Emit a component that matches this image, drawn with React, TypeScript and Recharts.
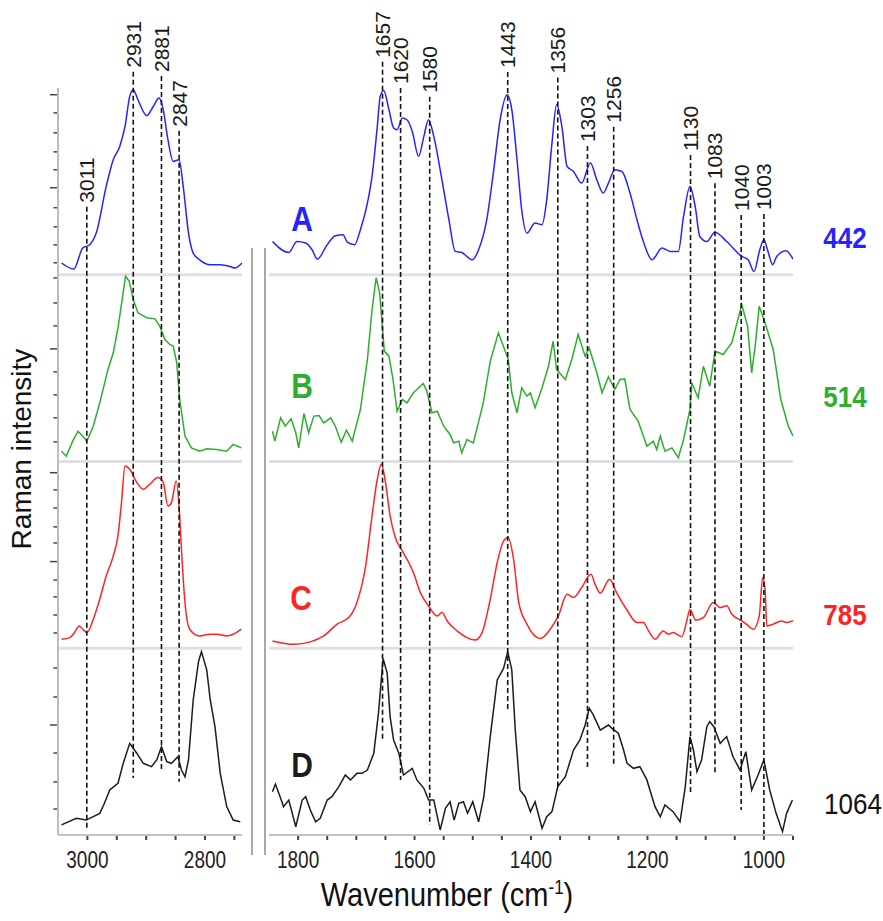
import React from 'react';
import {LineChart, Line, XAxis, YAxis, ReferenceLine} from 'recharts';

// high wavenumber window (C-H stretch)
const hiNuA = [3044, 3023, 3008, 2996, 2985, 2968, 2956, 2945, 2936, 2928, 2922, 2914, 2899, 2888, 2878, 2871, 2863, 2854, 2844, 2837, 2828, 2820, 2809, 2791, 2774, 2757, 2749, 2737];
const hiIntA = [6.3, 3.1, 14.3, 16.1, 22.3, 47.3, 61.6, 68.7, 79.4, 95.5, 99.1, 93.7, 85.2, 90.1, 94.6, 88.4, 72.3, 60.7, 61.6, 47.3, 22.3, 11.6, 8.0, 5.4, 5.4, 4.4, 3.6, 6.3];
const hiNuB = [3044, 3036, 3025, 3016, 3008, 3001, 2990, 2979, 2965, 2956, 2948, 2940, 2935, 2929, 2922, 2914, 2899, 2885, 2877, 2868, 2860, 2854, 2848, 2843, 2834, 2823, 2809, 2797, 2780, 2763, 2752, 2738];
const hiIntB = [5.5, 2.8, 10.9, 16.2, 13.6, 10.9, 18.9, 31.4, 49.3, 58.2, 71.6, 88.5, 99.2, 96.6, 86.8, 79.6, 77.0, 76.4, 72.5, 65.3, 62.7, 61.8, 52.9, 33.2, 13.6, 7.3, 5.5, 6.8, 6.4, 5.5, 9.1, 7.3];
const hiNuC = [3044, 3030, 3022, 3014, 3008, 3001, 2990, 2979, 2968, 2956, 2948, 2942, 2936, 2928, 2916, 2905, 2894, 2880, 2871, 2863, 2857, 2849, 2843, 2840, 2834, 2826, 2809, 2791, 2780, 2763, 2752, 2738];
const hiIntC = [4.8, 5.7, 8.4, 11.9, 10.2, 8.4, 15.5, 26.2, 38.7, 49.4, 60.2, 78.0, 97.6, 95.9, 88.8, 85.2, 87.8, 91.4, 88.8, 76.2, 78.0, 89.6, 70.9, 53.0, 24.5, 10.2, 6.6, 7.5, 7.5, 6.6, 7.5, 10.2];
const hiNuD = [3044, 3019, 3002, 2979, 2971, 2962, 2948, 2939, 2928, 2916, 2905, 2891, 2882, 2874, 2865, 2857, 2846, 2840, 2834, 2828, 2820, 2811, 2806, 2797, 2791, 2783, 2774, 2763, 2752, 2740];
const hiIntD = [5.4, 8.9, 8.0, 11.6, 17.0, 24.1, 27.7, 38.4, 49.1, 43.8, 38.4, 36.6, 40.2, 47.3, 39.3, 38.4, 41.9, 34.8, 31.2, 40.2, 72.3, 92.8, 98.2, 88.4, 72.3, 58.0, 33.0, 15.2, 8.0, 7.1];

// fingerprint window, right panel
const loNuA = [1844, 1816, 1802, 1787, 1776, 1767, 1750, 1736, 1723, 1715, 1703, 1693, 1681, 1673, 1664, 1659, 1653, 1644, 1636, 1630, 1621, 1613, 1604, 1593, 1584, 1576, 1567, 1553, 1541, 1530, 1519, 1501, 1490, 1476, 1464, 1453, 1441, 1433, 1424, 1416, 1407, 1393, 1381, 1373, 1364, 1356, 1347, 1338, 1327, 1313, 1298, 1287, 1276, 1267, 1256, 1244, 1230, 1218, 1207, 1192, 1175, 1161, 1147, 1138, 1127, 1118, 1110, 1098, 1084, 1064, 1038, 1027, 1017, 1007, 1000, 993, 985, 978, 962, 950];
const loIntA = [17.8, 11.9, 17.8, 17.0, 13.4, 8.4, 16.1, 20.9, 21.4, 17.3, 16.1, 24.1, 38.4, 52.7, 79.4, 95.5, 98.7, 88.4, 78.6, 77.7, 83.9, 83.0, 76.8, 63.4, 74.1, 83.0, 74.1, 50.9, 29.5, 12.5, 11.9, 8.0, 13.4, 29.5, 56.2, 83.0, 96.4, 88.4, 61.6, 34.8, 22.3, 27.7, 26.8, 40.2, 70.5, 91.1, 79.4, 58.0, 55.3, 49.1, 59.8, 50.9, 43.8, 49.1, 56.2, 55.3, 43.8, 29.5, 17.8, 8.0, 14.3, 12.5, 12.5, 31.2, 47.3, 36.6, 20.5, 17.8, 22.7, 17.8, 9.8, 8.0, 1.8, 13.4, 18.7, 12.5, 5.4, 9.8, 12.9, 8.4];
const loNuB = [1844, 1840, 1830, 1822, 1812, 1804, 1799, 1790, 1782, 1773, 1764, 1756, 1744, 1736, 1726, 1717, 1707, 1693, 1681, 1673, 1666, 1660, 1652, 1644, 1637, 1630, 1621, 1613, 1602, 1585, 1579, 1570, 1561, 1550, 1539, 1533, 1524, 1519, 1510, 1499, 1482, 1470, 1456, 1439, 1433, 1424, 1416, 1407, 1401, 1393, 1381, 1370, 1362, 1356, 1341, 1330, 1319, 1307, 1300, 1287, 1278, 1267, 1256, 1247, 1239, 1230, 1216, 1207, 1201, 1190, 1184, 1178, 1170, 1158, 1147, 1138, 1127, 1124, 1113, 1104, 1093, 1084, 1070, 1055, 1038, 1028, 1021, 1015, 1008, 998, 984, 971, 958, 950];
const loIntB = [16.2, 10.9, 23.4, 18.9, 22.9, 15.4, 7.3, 25.7, 15.4, 24.3, 24.6, 20.7, 23.4, 18.9, 10.3, 16.8, 10.9, 27.9, 54.6, 81.4, 98.4, 90.4, 59.1, 56.4, 43.9, 26.9, 33.2, 31.4, 36.8, 41.8, 37.7, 26.1, 26.9, 18.9, 14.5, 10.0, 10.9, 4.7, 11.8, 10.0, 31.4, 53.6, 68.9, 54.6, 36.8, 26.1, 39.5, 35.0, 36.8, 28.8, 39.5, 51.0, 64.4, 49.3, 43.9, 54.6, 68.0, 56.4, 60.9, 47.5, 36.8, 45.4, 38.6, 43.9, 44.3, 27.9, 21.6, 13.6, 8.2, 10.9, 6.4, 13.6, 5.5, 7.3, 2.0, 11.8, 27.9, 42.2, 34.1, 51.0, 40.3, 59.1, 57.3, 63.6, 84.1, 72.5, 47.5, 61.8, 83.2, 74.3, 60.0, 33.2, 18.9, 13.6];
const loNuC = [1844, 1807, 1779, 1756, 1733, 1713, 1699, 1684, 1673, 1664, 1657, 1650, 1642, 1633, 1621, 1610, 1602, 1590, 1576, 1561, 1553, 1544, 1527, 1510, 1496, 1484, 1470, 1458, 1447, 1439, 1430, 1421, 1407, 1384, 1367, 1353, 1338, 1327, 1313, 1297, 1290, 1281, 1265, 1253, 1236, 1218, 1207, 1198, 1187, 1173, 1164, 1156, 1141, 1133, 1127, 1117, 1104, 1087, 1075, 1064, 1055, 1038, 1030, 1018, 1008, 1002, 998, 995, 984, 970, 961, 950];
const loIntC = [3.9, 2.1, 3.4, 6.6, 12.9, 16.4, 24.5, 44.1, 70.9, 90.5, 98.6, 88.8, 70.9, 59.3, 52.1, 45.9, 40.5, 29.8, 22.7, 17.3, 19.1, 14.6, 9.3, 5.7, 4.4, 8.4, 26.2, 45.9, 57.5, 59.3, 47.7, 24.5, 12.9, 5.2, 10.2, 17.3, 28.9, 27.2, 32.5, 39.6, 34.3, 29.5, 37.0, 29.8, 20.9, 13.8, 13.8, 9.3, 4.8, 9.3, 7.5, 8.4, 6.3, 13.9, 20.9, 15.0, 16.4, 24.5, 21.8, 22.7, 18.2, 14.6, 12.9, 10.2, 17.3, 37.9, 31.6, 11.9, 12.9, 14.6, 13.8, 14.6];
const loNuD = [1844, 1839, 1830, 1825, 1816, 1804, 1793, 1787, 1779, 1770, 1762, 1750, 1742, 1730, 1719, 1710, 1699, 1690, 1681, 1670, 1662, 1654, 1647, 1642, 1636, 1627, 1619, 1604, 1596, 1584, 1576, 1567, 1556, 1547, 1539, 1532, 1524, 1516, 1509, 1500, 1490, 1481, 1470, 1458, 1447, 1440, 1433, 1427, 1419, 1410, 1401, 1393, 1381, 1373, 1364, 1354, 1341, 1327, 1316, 1307, 1300, 1293, 1281, 1267, 1261, 1250, 1241, 1235, 1224, 1213, 1201, 1187, 1178, 1170, 1156, 1144, 1135, 1127, 1121, 1115, 1107, 1098, 1093, 1086, 1075, 1064, 1053, 1041, 1031, 1021, 1010, 1000, 990, 979, 968, 961, 951];
const loIntD = [23.2, 27.3, 19.7, 15.2, 18.7, 4.4, 18.7, 20.5, 13.4, 7.1, 8.9, 18.7, 20.5, 25.9, 32.1, 29.5, 33.0, 33.0, 34.8, 43.8, 65.2, 94.6, 86.6, 63.4, 50.9, 43.8, 32.1, 35.7, 29.5, 25.0, 18.7, 18.7, 2.7, 14.3, 17.8, 8.0, 17.0, 17.8, 11.6, 17.8, 7.1, 20.5, 52.7, 83.0, 89.3, 98.2, 88.4, 56.2, 24.1, 20.5, 12.5, 17.8, 3.6, 9.8, 12.5, 25.9, 31.2, 45.5, 50.9, 58.9, 67.9, 64.3, 56.2, 58.9, 57.1, 54.5, 45.5, 38.4, 35.7, 36.6, 29.5, 15.2, 9.8, 16.1, 12.5, 7.1, 25.9, 52.7, 45.5, 33.9, 40.2, 58.0, 60.7, 58.0, 49.1, 52.7, 41.9, 34.8, 44.6, 24.1, 32.1, 40.2, 24.1, 11.6, 1.8, 11.6, 18.7];

const letters = ['A', 'B', 'C', 'D'];
const lasers = ['442', '514', '785', '1064'];
const stackOffset = [300, 200, 100, 0];

const hiTicks = [2750, 2800, 2850, 2900, 2950, 3000];
const loTicks = [950, 1000, 1050, 1100, 1150, 1200, 1250, 1300, 1350, 1400, 1450, 1500, 1550, 1600, 1650, 1700, 1750, 1800];
const yTicks = [396.4, 386.7, 376, 365.8, 356.2, 346.6, 335.9, 325.7, 316, 306.4, 298.3, 284.9, 272.6, 260.3, 248, 235.7, 223.4, 210.5, 194, 184.8, 175.1, 165, 156.4, 146.4, 136.5, 127.5, 117.8, 108.2, 89.4, 73.9, 58.9, 43.9, 28.4, 13.9];
const yMajor = [396.4, 346.6, 260.3, 194, 146.4, 58.9];

// marked bands: label, where the dashed line sits, its top and bottom (intensity units)
const hiPeaks = [
  {label: '3011', at: 3001, top: 336.4, bottom: 2.7},
  {label: '2931', at: 2922, top: 408.7, bottom: 30.5},
  {label: '2881', at: 2874, top: 406.4, bottom: 33.9},
  {label: '2847', at: 2844, top: 377.1, bottom: 28.5},
];
const loPeaks = [
  {label: '1657', at: 1655, top: 414, bottom: 50.9},
  {label: '1620', at: 1624, top: 400, bottom: 29.5},
  {label: '1580', at: 1574, top: 395.3, bottom: 5.4},
  {label: '1443', at: 1440, top: 408.6, bottom: 66},
  {label: '1356', at: 1354, top: 405.6, bottom: 25.9},
  {label: '1303', at: 1303, top: 368.9, bottom: 34.8},
  {label: '1256', at: 1258, top: 379.3, bottom: 37.5},
  {label: '1130', at: 1126, top: 364.1, bottom: 21.4},
  {label: '1083', at: 1084, top: 349, bottom: 33.2},
  {label: '1040', at: 1039, top: 332, bottom: 13.4},
  {label: '1003', at: 1000, top: 332.5, bottom: 0},
];

const colors = ['#2424ff', '#2eae2e', '#ff2424', '#1c1c1c'];
const curve: ('monotone' | 'linear')[] = ['monotone', 'linear', 'monotone', 'linear'];
const font = "'Liberation Sans', Arial, sans-serif";

const rows = (nu: number[], val: number[], off: number) =>
  nu.map((n, i) => ({nu: n, v: val[i] + off}));

const hiSets = [
  rows(hiNuA, hiIntA, stackOffset[0]),
  rows(hiNuB, hiIntB, stackOffset[1]),
  rows(hiNuC, hiIntC, stackOffset[2]),
  rows(hiNuD, hiIntD, stackOffset[3]),
];
const loSets = [
  rows(loNuA, loIntA, stackOffset[0]),
  rows(loNuB, loIntB, stackOffset[1]),
  rows(loNuC, loIntC, stackOffset[2]),
  rows(loNuD, loIntD, stackOffset[3]),
];

const XTick = (props: any) => {
  const {x, y, payload} = props;
  const v = payload.value;
  return (
    <g>
      <line x1={x} x2={x} y1={y - 1} y2={y + 3} stroke="#444" strokeWidth={2} />
      {v % 200 === 0 && (
        <text
          transform={`translate(${x},${y + 31}) scale(1,1.25)`}
          textAnchor="middle"
          fontSize={19}
          fontFamily={font}
          fill="#222"
        >
          {v}
        </text>
      )}
    </g>
  );
};

const YTick = (props: any) => {
  const {x, y, payload} = props;
  const len = yMajor.includes(payload.value) ? 6 : 2.5;
  return <line x1={x - len} x2={x + 1} y1={y} y2={y} stroke="#444" strokeWidth={1.5} />;
};

const peakShape = (label: string) => (p: any) => {
  const top = Math.min(p.y1, p.y2);
  return (
    <g>
      <line x1={p.x1} y1={p.y1} x2={p.x2} y2={p.y2} stroke="#111" strokeWidth={1.6} strokeDasharray="5 3" />
      <text
        transform={`translate(${p.x1 + 7.5},${top - 4}) rotate(-90)`}
        fontSize={21}
        fontFamily={font}
        fill="#1a1a1a"
      >
        {label}
      </text>
    </g>
  );
};

const separators = [100, 200, 300];

const abs = (left: number, top: number, extra: React.CSSProperties = {}): React.CSSProperties => ({
  position: 'absolute',
  left,
  top,
  fontFamily: font,
  lineHeight: 1,
  whiteSpace: 'nowrap',
  ...extra,
});

const letterPos = [[302, 219], [302, 386], [301, 598], [302, 765]];
const laserPos = [[845, 238], [845, 397], [845, 615], [853, 804]];

export default function App() {
  return (
    <div style={{position: 'absolute', left: 0, top: 0, width: 883, height: 921, background: '#fff', overflow: 'hidden'}}>
      <div style={{position: 'absolute', left: 0, top: 0}}>
        <LineChart width={260} height={921} margin={{top: 88, right: 18, bottom: 56, left: 18}}>
          <XAxis
            dataKey="nu"
            type="number"
            domain={[2737, 3050]}
            reversed
            allowDataOverflow
            ticks={hiTicks}
            interval={0}
            height={30}
            tickSize={0}
            tickLine={false}
            axisLine={{stroke: '#c4c4c4', strokeWidth: 2}}
            tick={<XTick />}
          />
          <YAxis
            type="number"
            domain={[0, 400]}
            allowDataOverflow
            ticks={yTicks}
            interval={0}
            width={40}
            tickSize={0}
            tickLine={false}
            axisLine={{stroke: '#bdbdbd', strokeWidth: 2}}
            tick={<YTick />}
          />
          {separators.map((s) => (
            <ReferenceLine key={s} y={s} stroke="#e0e0e0" strokeWidth={3} />
          ))}
          {hiSets.map((d, i) => (
            <Line
              key={letters[i]}
              data={d}
              dataKey="v"
              type={curve[i]}
              stroke={colors[i]}
              strokeWidth={1.5}
              dot={false}
              isAnimationActive={false}
            />
          ))}
          {hiPeaks.map((p) => (
            <ReferenceLine
              key={p.label}
              segment={[{x: p.at, y: p.top}, {x: p.at, y: p.bottom}]}
              ifOverflow="visible"
              shape={peakShape(p.label)}
            />
          ))}
        </LineChart>
      </div>

      <div style={{position: 'absolute', left: 250, top: 0}}>
        <LineChart width={633} height={921} margin={{top: 88, right: 90, bottom: 56, left: 19}}>
          <XAxis
            dataKey="nu"
            type="number"
            domain={[950, 1850]}
            reversed
            allowDataOverflow
            ticks={loTicks}
            interval={0}
            height={30}
            tickSize={0}
            tickLine={false}
            axisLine={{stroke: '#c4c4c4', strokeWidth: 2}}
            tick={<XTick />}
          />
          <YAxis type="number" domain={[0, 400]} allowDataOverflow hide />
          {separators.map((s) => (
            <ReferenceLine key={s} y={s} stroke="#e0e0e0" strokeWidth={3} />
          ))}
          {loSets.map((d, i) => (
            <Line
              key={letters[i]}
              data={d}
              dataKey="v"
              type={curve[i]}
              stroke={colors[i]}
              strokeWidth={1.5}
              dot={false}
              isAnimationActive={false}
            />
          ))}
          {loPeaks.map((p) => (
            <ReferenceLine
              key={p.label}
              segment={[{x: p.at, y: p.top}, {x: p.at, y: p.bottom}]}
              ifOverflow="visible"
              shape={peakShape(p.label)}
            />
          ))}
        </LineChart>
      </div>

      {/* broken-axis marks between the two windows */}
      <div style={{position: 'absolute', left: 251, top: 248, width: 2, height: 607, background: '#a8a8a8'}} />
      <div style={{position: 'absolute', left: 264, top: 248, width: 2, height: 607, background: '#a8a8a8'}} />

      {letters.map((l, i) => (
        <div
          key={l}
          style={abs(letterPos[i][0], letterPos[i][1], {
            transform: 'translate(-50%,-50%) scale(1,1.15)',
            fontSize: 30,
            fontWeight: 'bold',
            color: colors[i],
          })}
        >
          {l}
        </div>
      ))}
      {lasers.map((l, i) => (
        <div
          key={l}
          style={abs(laserPos[i][0], laserPos[i][1], {
            transform: 'translate(-50%,-50%) scale(1,1.1)',
            fontSize: 26,
            fontWeight: i < 3 ? 'bold' : 'normal',
            color: i < 3 ? colors[i] : '#111',
          })}
        >
          {l}
        </div>
      ))}

      <div
        style={abs(22, 449, {
          transform: 'translate(-50%,-50%) rotate(-90deg)',
          fontSize: 28,
          color: '#111',
        })}
      >
        Raman intensity
      </div>
      <div
        style={abs(447, 895, {
          transform: 'translate(-50%,-50%) scale(1,1.15)',
          fontSize: 29,
          color: '#111',
        })}
      >
        Wavenumber (cm<sup style={{fontSize: 17, verticalAlign: 'super', lineHeight: 0}}>-1</sup>)
      </div>
    </div>
  );
}
